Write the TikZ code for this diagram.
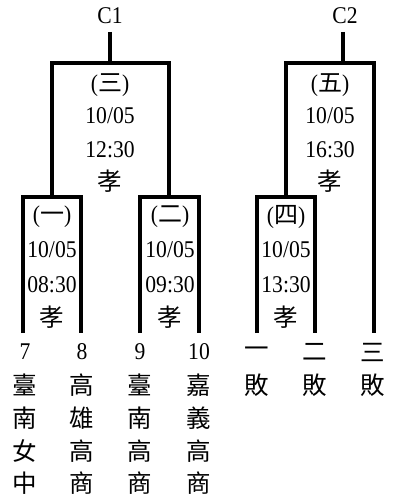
\documentclass[tikz,border=0pt]{standalone}
\usepackage{fontspec}
\setmainfont[FakeStretch=0.9]{Liberation Serif}
\newfontfamily\cjk{Noto Sans CJK TC}
\begin{document}
\begin{tikzpicture}[x=1pt,y=-1pt,
  bracket/.style={line width=3.3pt, line join=miter, line cap=butt},
  txt/.style={inner sep=0pt, font=\fontsize{24}{24}\selectfont},
  han/.style={inner sep=0pt, font=\fontsize{24.5}{24.5}\selectfont\cjk}]
\useasboundingbox (0,0) rectangle (395,497);
% ---------- coordinates ----------
\coordinate (c1top) at (110,32);
\coordinate (c1bar) at (110,63);
\coordinate (g3l) at (52,63);  \coordinate (g3r) at (169,63);
\coordinate (g3lb) at (52,197); \coordinate (g3rb) at (169,197);
\coordinate (g1l) at (23,197); \coordinate (g1r) at (81,197);
\coordinate (g2l) at (140,197); \coordinate (g2r) at (199,197);
\coordinate (t7) at (23,333); \coordinate (t8) at (81,333);
\coordinate (t9) at (140,333); \coordinate (t10) at (199,333);
\coordinate (c2top) at (343,32);
\coordinate (c2bar) at (343,63);
\coordinate (g5l) at (286,63); \coordinate (g5r) at (374,63);
\coordinate (g5lb) at (286,197);
\coordinate (g4l) at (257,197); \coordinate (g4r) at (315,197);
\coordinate (tA) at (257,333); \coordinate (tB) at (315,333);
\coordinate (tC) at (374,333);
% ---------- brackets ----------
\draw[bracket] (c1top) -- (c1bar);
\draw[bracket] (g3lb) -- (g3l) -- (g3r) -- (g3rb);
\draw[bracket] (t7) -- (g1l) -- (g1r) -- (t8);
\draw[bracket] (t9) -- (g2l) -- (g2r) -- (t10);
\draw[bracket] (c2top) -- (c2bar);
\draw[bracket] (g5lb) -- (g5l) -- (g5r) -- (tC);
\draw[bracket] (tA) -- (g4l) -- (g4r) -- (tB);
% ---------- titles ----------
\node[txt] (C1) at (110,16) {C1};
\node[txt] (C2) at (345,16) {C2};
% ---------- game 3 ----------
\node[txt] (m3a) at (110,85) {({\cjk 三})};
\node[txt] (m3b) at (110,116) {10/05};
\node[txt] (m3c) at (110,150) {12:30};
\node[han] (m3d) at (110,181) {孝};
% ---------- game 1 ----------
\node[txt] (m1a) at (52,217) {({\cjk 一})};
\node[txt] (m1b) at (52,250) {10/05};
\node[txt] (m1c) at (52,285) {08:30};
\node[han] (m1d) at (52,317) {孝};
% ---------- game 2 ----------
\node[txt] (m2a) at (170,217) {({\cjk 二})};
\node[txt] (m2b) at (170,250) {10/05};
\node[txt] (m2c) at (170,285) {09:30};
\node[han] (m2d) at (170,317) {孝};
% ---------- game 5 ----------
\node[txt] (m5a) at (330,85) {({\cjk 五})};
\node[txt] (m5b) at (330,116) {10/05};
\node[txt] (m5c) at (330,150) {16:30};
\node[han] (m5d) at (330,181) {孝};
% ---------- game 4 ----------
\node[txt] (m4a) at (286,217) {({\cjk 四})};
\node[txt] (m4b) at (286,250) {10/05};
\node[txt] (m4c) at (286,285) {13:30};
\node[han] (m4d) at (286,317) {孝};
% ---------- seeds ----------
\node[txt] (s7) at (25,352) {7};
\node[txt] (s8) at (82,352) {8};
\node[txt] (s9) at (140,352) {9};
\node[txt] (s10) at (199,352) {10};
\node[han] (sA) at (257,352) {一};
\node[han] (sB) at (315,352) {二};
\node[han] (sC) at (373,352) {三};
% ---------- team names ----------
\node[han] (n7a) at (25,385) {臺};
\node[han] (n7b) at (25,418) {南};
\node[han] (n7c) at (25,451) {女};
\node[han] (n7d) at (25,483) {中};
\node[han] (n8a) at (82,385) {高};
\node[han] (n8b) at (82,418) {雄};
\node[han] (n8c) at (82,451) {高};
\node[han] (n8d) at (82,483) {商};
\node[han] (n9a) at (140,385) {臺};
\node[han] (n9b) at (140,418) {南};
\node[han] (n9c) at (140,451) {高};
\node[han] (n9d) at (140,483) {商};
\node[han] (n10a) at (199,385) {嘉};
\node[han] (n10b) at (199,418) {義};
\node[han] (n10c) at (199,451) {高};
\node[han] (n10d) at (199,483) {商};
\node[han] (nAa) at (257,385) {敗};
\node[han] (nBa) at (315,385) {敗};
\node[han] (nCa) at (373,385) {敗};
\end{tikzpicture}
\end{document}
